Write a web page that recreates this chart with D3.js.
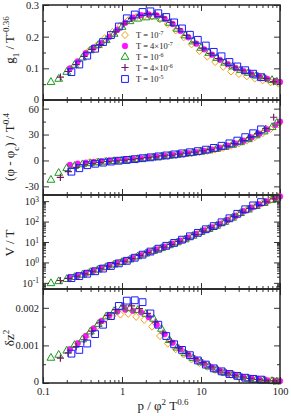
<!DOCTYPE html>
<html><head><meta charset="utf-8">
<script src="https://cdn.jsdelivr.net/npm/d3@7"></script>
<style>
body{margin:0;background:#fff}
svg{display:block}
text{font-family:"Liberation Serif","Times New Roman",serif;fill:#222}
</style>
</head><body>
<svg id="c" width="291" height="416"></svg>
<script>
// ---------------- data ----------------
const seriesLabels = [["T = 10","-7"],["T = 4\u00d710","-7"],["T = 10","-6"],["T = 4\u00d710","-6"],["T = 10","-5"]];
const xTickValues = [0.1, 1, 10, 100];
const xTickLabels = ["0.1", "1", "10", "100"];

// T = 1e-7 (orange diamonds)
const x_T1 = [0.380,0.479,0.603,0.759,0.955,1.20,1.51,1.91,2.40,3.02,3.80,4.79,6.03,7.59,9.55,12.0,15.1,19.1,24.0,30.2,38.0,47.9,60.3,75.9,95.5];
const g1_T1 = [0.155,0.172,0.195,0.215,0.235,0.252,0.262,0.266,0.264,0.255,0.240,0.220,0.198,0.176,0.155,0.137,0.120,0.105,0.090,0.082,0.075,0.068,0.062,0.056,0.052];
const phi_T1 = [-2.2,-1.5,-0.9,-0.3,0.2,0.8,1.6,2.5,3.4,4.3,5.3,6.3,7.3,8.4,9.6,11,12.7,14.7,17,19.8,23,27,31.5,36.5,42];
const vt_T1 = [0.33,0.44,0.58,0.77,1.02,1.35,1.9,2.6,3.5,4.8,6.6,9.2,13,19,29,42,60,92,145,240,370,560,800,1130,1600];
const dz_T1 = [0.00130,0.00150,0.00168,0.00178,0.00182,0.00184,0.00176,0.00168,0.00150,0.00125,0.00105,0.00090,0.00076,0.00063,0.00053,0.00043,0.00035,0.00028,0.00022,0.00017,0.00014,0.00011,0.000085,0.000065,0.00005];

// T = 4e-7 (magenta circles)
const x_T2 = [0.219,0.275,0.347,0.437,0.550,0.692,0.871,1.10,1.38,1.74,2.19,2.75,3.47,4.37,5.50,6.92,8.71,11.0,13.8,17.4,21.9,27.5,34.7,43.7,55.0,69.2,87.1,100];
const g1_T2 = [0.100,0.122,0.148,0.165,0.180,0.200,0.222,0.244,0.260,0.268,0.270,0.267,0.256,0.240,0.218,0.198,0.178,0.160,0.143,0.127,0.113,0.101,0.091,0.082,0.074,0.067,0.060,0.057];
const phi_T2 = [-5.2,-3.6,-2.6,-1.8,-1,-0.3,0.2,0.8,1.5,2.4,3.4,4.4,5.4,6.4,7.5,8.6,9.7,11,12.6,14.6,17,19.6,22.8,26.6,31,36,41,45];
const vt_T2 = [0.175,0.22,0.29,0.39,0.53,0.70,0.92,1.2,1.65,2.3,3.15,4.3,5.9,8.2,11.5,16.5,25,37,52,78,120,190,320,480,700,980,1380,1700];
const dz_T2 = [0.00090,0.00106,0.00125,0.00145,0.00165,0.00180,0.00190,0.00195,0.00192,0.00188,0.00175,0.00155,0.00130,0.00107,0.00090,0.00075,0.00062,0.00051,0.00041,0.00032,0.00025,0.00020,0.00015,0.00012,0.00009,0.00007,0.000055,0.00005];

// T = 1e-6 (green triangles)
const x_T3 = [0.126,0.158,0.200,0.251,0.316,0.398,0.501,0.631,0.794,1.00,1.26,1.58,2.00,2.51,3.16,3.98,5.01,6.31,7.94,10.0,12.6,15.8,20.0,25.1,31.6,39.8,50.1,63.1,79.4,91.2];
const g1_T3 = [0.058,0.068,0.090,0.112,0.135,0.158,0.175,0.190,0.210,0.232,0.250,0.258,0.262,0.265,0.258,0.245,0.226,0.205,0.186,0.166,0.150,0.134,0.119,0.107,0.096,0.087,0.078,0.071,0.064,0.059];
const phi_T3 = [-22,-14,-8.5,-6,-4,-2.8,-1.8,-1,-0.3,0.3,1,2,3,4,5,6,7,8.2,9.2,10.5,12,13.8,16,18.5,21.5,25,29.5,34,39,44];
const vt_T3 = [0.10,0.125,0.16,0.20,0.26,0.35,0.47,0.62,0.82,1.08,1.45,2.05,2.8,3.8,5.2,7.2,10,14,21,32,45,65,100,160,270,400,600,850,1200,1550];
const dz_T3 = [0.00068,0.00076,0.00087,0.00102,0.00117,0.00138,0.00158,0.00178,0.00192,0.00202,0.00200,0.00195,0.00185,0.00172,0.00145,0.00115,0.00095,0.00080,0.00067,0.00056,0.00045,0.00036,0.00028,0.00022,0.00017,0.00013,0.00010,0.00008,0.00006,0.00005];

// T = 4e-6 (dark purple plus)
const x_T4 = [0.166,0.209,0.263,0.331,0.417,0.525,0.661,0.832,1.05,1.32,1.66,2.09,2.63,3.31,4.17,5.25,6.61,8.32,10.5,13.2,16.6,20.9,26.3,33.1,41.7,52.5,66.1,83.2];
const g1_T4 = [0.072,0.090,0.112,0.138,0.160,0.175,0.194,0.215,0.240,0.258,0.268,0.273,0.271,0.262,0.245,0.225,0.204,0.183,0.164,0.147,0.131,0.116,0.104,0.094,0.085,0.076,0.068,0.058];
const phi_T4 = [-19.5,-13,-8,-5,-3.5,-2.2,-1.2,-0.4,0.4,1.2,2.1,3.2,4.2,5.2,6.2,7.3,8.5,9.6,11,12.5,14.4,16.8,19.5,22.5,26.5,31,37,50];
const vt_T4 = [0.13,0.167,0.21,0.275,0.37,0.49,0.65,0.87,1.14,1.55,2.2,3.0,4.05,5.6,7.7,10.7,15.2,23,34,49,70,110,175,290,440,650,920,1300];
const dz_T4 = [0.00066,0.00080,0.00097,0.00115,0.00138,0.00160,0.00180,0.00195,0.00205,0.00205,0.00198,0.00185,0.00162,0.00133,0.00110,0.00093,0.00078,0.00065,0.00054,0.00043,0.00034,0.00027,0.00021,0.00016,0.000125,0.000095,0.000075,0.000055];

// T = 1e-5 (blue squares)
const x_T5 = [0.229,0.288,0.363,0.457,0.575,0.724,0.912,1.15,1.45,1.82,2.29,2.88,3.63,4.57,5.75,7.24,9.12,11.5,14.5,18.2,22.9,28.8,36.3,45.7,57.5];
const g1_T5 = [0.088,0.112,0.140,0.162,0.183,0.205,0.232,0.258,0.270,0.278,0.280,0.274,0.262,0.245,0.226,0.206,0.190,0.172,0.152,0.138,0.120,0.106,0.094,0.083,0.072];
const phi_T5 = [-13,-9,-5.5,-3.8,-2.5,-1.3,-0.3,0.6,1.5,2.6,3.6,4.7,5.8,7,8.2,9.5,10.8,12.5,14.5,17,19.8,23,27,31.5,36];
const vt_T5 = [0.17,0.215,0.28,0.37,0.50,0.67,0.90,1.2,1.7,2.4,3.4,4.7,6.5,9,13,19,28,42,60,92,145,240,400,620,900];
const dz_T5 = [0.00078,0.00088,0.00105,0.00130,0.00155,0.00178,0.00205,0.00219,0.00220,0.00215,0.00185,0.00155,0.00125,0.00103,0.00088,0.00074,0.00060,0.00049,0.00039,0.00031,0.00024,0.00019,0.00014,0.00011,0.00009];

// ---------------- layout ----------------
const svg = d3.select("#c");
const left = 43, right = 280;
const bounds = [5, 100, 195, 289, 383];
const x = d3.scaleLog().domain([0.1, 100]).range([left, right]);

const series = [
  {x:x_T1, g1:g1_T1, phi:phi_T1, vt:vt_T1, dz:dz_T1, shape:"diamond", color:"#f5a31a"},
  {x:x_T2, g1:g1_T2, phi:phi_T2, vt:vt_T2, dz:dz_T2, shape:"circle", color:"#ff10ff"},
  {x:x_T3, g1:g1_T3, phi:phi_T3, vt:vt_T3, dz:dz_T3, shape:"triangle", color:"#1a9a1a"},
  {x:x_T4, g1:g1_T4, phi:phi_T4, vt:vt_T4, dz:dz_T4, shape:"plus", color:"#7a1860"},
  {x:x_T5, g1:g1_T5, phi:phi_T5, vt:vt_T5, dz:dz_T5, shape:"square", color:"#1a1aff"}
];

function logMinors(lo, hi) {
  const out = [];
  for (let e = -3; e <= 4; e++) for (let m = 2; m <= 9; m++) {
    const v = m * Math.pow(10, e);
    if (v > lo && v < hi) out.push(v);
  }
  return out;
}

const panels = [
  {key:"g1", y:d3.scaleLinear().domain([0, 0.3]), majors:[0,0.1,0.2,0.3], minors:[0.05,0.15,0.25], fmt:d=>d===0?"0":d.toFixed(1)},
  {key:"phi", y:d3.scaleLinear().domain([-40, 70]), majors:[-30,0,30,60], minors:[-15,15,45], fmt:d=>String(d)},
  {key:"vt", y:d3.scaleLog().domain([0.05, 2000]), majors:[0.1,1,10,100,1000], minors:logMinors(0.05,2000), fmt:null},
  {key:"dz", y:d3.scaleLinear().domain([0, 0.0025]), majors:[0,0.001,0.002], minors:[0.0005,0.0015], fmt:d=>d===0?"0":d.toFixed(3)}
];

const xMinors = logMinors(0.1, 100);

function symbolPath(shape) {
  if (shape === "diamond") return "M0,-3.6L3.4,0L0,3.6L-3.4,0Z";
  if (shape === "triangle") return "M0,-4L3.9,2.8L-3.9,2.8Z";
  if (shape === "square") return "M-3.4,-3.4H3.4V3.4H-3.4Z";
  if (shape === "plus") return "M-3.6,0H3.6M0,-3.6V3.6";
  return null;
}
function drawMarker(g, shape, color, cx, cy) {
  if (shape === "circle") {
    g.append("circle").attr("cx", cx).attr("cy", cy).attr("r", 2.9)
      .attr("fill", color).attr("stroke", color).attr("stroke-width", 0.5);
  } else {
    g.append("path").attr("transform", `translate(${cx},${cy})`).attr("d", symbolPath(shape))
      .attr("fill", "none").attr("stroke", color).attr("stroke-width", shape === "plus" ? 1.2 : 1);
  }
}

panels.forEach((p, i) => {
  const top = bounds[i], bot = bounds[i + 1];
  p.y.range([bot, top]);
  const g = svg.append("g");

  series.forEach(s => {
    const sg = g.append("g");
    s.x.forEach((xv, j) => {
      const yv = s[p.key][j];
      const cy = p.y(yv);
      if (cy < top - 1 || cy > bot + 1) return;
      drawMarker(sg, s.shape, s.color, x(xv), cy);
    });
  });

  const axStyle = sel => { sel.select(".domain").remove(); sel.selectAll("line").attr("stroke", "#333").attr("stroke-width", 1); };

  const la = g.append("g").attr("transform", `translate(${left},0)`)
    .call(d3.axisLeft(p.y).tickValues(p.majors).tickSize(-6).tickPadding(4)
      .tickFormat(p.fmt ? p.fmt : () => ""));
  axStyle(la);
  la.selectAll("text").attr("font-size", 10.5).attr("font-family", "Liberation Serif").attr("fill", "#222");
  if (!p.fmt) {
    la.selectAll(".tick text").each(function(d) {
      const t = d3.select(this);
      const e = Math.round(Math.log10(d));
      t.text("10");
      t.append("tspan").attr("dy", "-0.45em").attr("font-size", 7.5).text(String(e));
    });
  }
  // lift panel-4 zero label slightly so it clears the x tick label below
  if (i === 3) la.selectAll(".tick text").filter(d => d === 0).attr("dy", "0.1em");
  if (i === 0) la.selectAll(".tick text").filter(d => d === 0).attr("dy", "0.2em");
  const lm = g.append("g").attr("transform", `translate(${left},0)`)
    .call(d3.axisLeft(p.y).tickValues(p.minors).tickSize(-3).tickFormat(""));
  axStyle(lm);

  const ra = g.append("g").attr("transform", `translate(${right},0)`)
    .call(d3.axisRight(p.y).tickValues(p.majors).tickSize(-6).tickFormat(""));
  axStyle(ra);
  const rm = g.append("g").attr("transform", `translate(${right},0)`)
    .call(d3.axisRight(p.y).tickValues(p.minors).tickSize(-3).tickFormat(""));
  axStyle(rm);

  const ta = g.append("g").attr("transform", `translate(0,${top})`)
    .call(d3.axisTop(x).tickValues(xTickValues).tickSize(-6).tickFormat(""));
  axStyle(ta);
  const tm = g.append("g").attr("transform", `translate(0,${top})`)
    .call(d3.axisTop(x).tickValues(xMinors).tickSize(-3).tickFormat(""));
  axStyle(tm);

  const ba = g.append("g").attr("transform", `translate(0,${bot})`)
    .call(d3.axisBottom(x).tickValues(xTickValues).tickSize(-6).tickPadding(5)
      .tickFormat((d, k) => i === 3 ? xTickLabels[k] : ""));
  axStyle(ba);
  ba.selectAll("text").attr("font-size", 10.5).attr("font-family", "Liberation Serif").attr("fill", "#222");
  const bm = g.append("g").attr("transform", `translate(0,${bot})`)
    .call(d3.axisBottom(x).tickValues(xMinors).tickSize(-3).tickFormat(""));
  axStyle(bm);

  g.append("rect").attr("x", left).attr("y", top).attr("width", right - left).attr("height", bot - top)
    .attr("fill", "none").attr("stroke", "#222").attr("stroke-width", 1.5);
});

// ---------------- legend ----------------
const legY = [35, 46, 56.5, 67.5, 79];
const leg = svg.append("g");
series.forEach((s, i) => {
  drawMarker(leg, s.shape, s.color, 125, legY[i]);
  const t = leg.append("text").attr("x", 136).attr("y", legY[i] + 3.2).attr("font-size", 8.5);
  t.append("tspan").text(seriesLabels[i][0]);
  t.append("tspan").attr("dy", "-0.5em").attr("font-size", 6).text(seriesLabels[i][1]);
});

// ---------------- axis titles ----------------
function yTitle(cx, cy, parts) {
  const t = svg.append("text").attr("transform", `translate(${cx},${cy}) rotate(-90)`)
    .attr("text-anchor", "middle").attr("font-size", 13);
  parts.forEach(([txt, kind]) => {
    const ts = t.append("tspan").text(txt);
    if (kind === "sup") ts.attr("baseline-shift", "super").attr("font-size", 9);
    if (kind === "sub") ts.attr("baseline-shift", "sub").attr("font-size", 9);
  });
}
yTitle(14, 40, [["g",""],["1","sub"],[" / T",""],["-0.36","sup"]]);
yTitle(14, 147, [["(\u03c6 - \u03c6",""],["c","sub"],[") / T",""],["0.4","sup"]]);
yTitle(14, 243, [["V / T",""]]);
yTitle(14, 338, [["\u03b4z",""],["2","sup"]]);

const xt = svg.append("text").attr("x", 163).attr("y", 410).attr("text-anchor", "middle").attr("font-size", 13);
xt.append("tspan").text("p / \u03c6");
xt.append("tspan").attr("baseline-shift", "super").attr("font-size", 9).text("2");
xt.append("tspan").text(" T");
xt.append("tspan").attr("baseline-shift", "super").attr("font-size", 9).text("0.6");
</script>
</body></html>
